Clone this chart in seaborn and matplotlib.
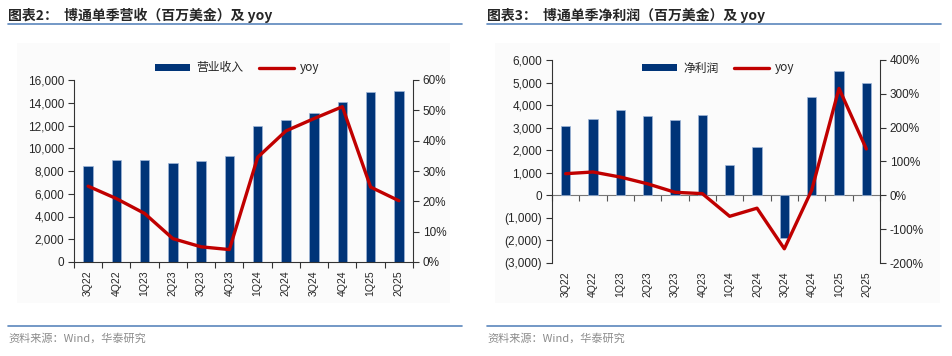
import numpy as np
import pandas as pd
import matplotlib
matplotlib.use("Agg")
import matplotlib.pyplot as plt
import seaborn as sns
from matplotlib.lines import Line2D
from matplotlib.patches import Patch, Rectangle
from matplotlib.ticker import FuncFormatter, MultipleLocator, FixedLocator

sns.set_theme(style="white")
plt.rcParams['font.family'] = ['Liberation Sans', 'Noto Sans CJK SC', 'DejaVu Sans']

quarters = ["3Q22", "4Q22", "1Q23", "2Q23", "3Q23", "4Q23",
            "1Q24", "2Q24", "3Q24", "4Q24", "1Q25", "2Q25"]
revenue = [8480, 8980, 8950, 8710, 8900, 9290,
           11950, 12490, 13070, 14050, 14920, 15000]
revenue_yoy = [25.0, 20.9, 16.0, 7.7, 5.0, 4.1,
               34.5, 43.2, 47.3, 51.2, 24.7, 20.2]
net_profit = [3080, 3380, 3790, 3500, 3320, 3540,
              1340, 2140, -1890, 4350, 5520, 4990]
profit_yoy = [64, 69, 54, 34, 9, 5,
              -62, -38, -158, 15, 316, 137]

title_left = "图表2：  博通单季营收（百万美金）及 yoy"
title_right = "图表3：  博通单季净利润（百万美金）及 yoy"
legend_left = ["营业收入", "yoy"]
legend_right = ["净利润", "yoy"]
source = "资料来源：Wind，华泰研究"

BAR = "#003478"
RED = "#C00000"
RULE = "#5B86BC"
W, H = 953, 356

fig = plt.figure(figsize=(W / 100, H / 100), dpi=100)
fig.patch.set_facecolor("white")


def fx(px):
    return px / W


def fy(py):
    return 1 - py / H


def panel(x0, x1, axl, axr, ytop, ybot, bars, yoy, ylim, ystep, yfmt,
          y2lim, y2step, leg_labels, leg_xy, title, tx, rx0, rx1, zero_line):
    # title and rules
    fig.text(fx(tx), fy(15), title, fontsize=10, fontweight="bold",
             family=["Noto Sans CJK SC", "DejaVu Sans"], va="center", ha="left")
    fig.add_artist(Line2D([fx(rx0), fx(rx1)], [fy(24), fy(24)], color=RULE, lw=1.2))
    fig.add_artist(Line2D([fx(rx0), fx(rx1)], [fy(326), fy(326)], color=RULE, lw=1.2))
    fig.text(fx(tx), fy(338), source, fontsize=8, color="#8C8C8C",
             family=["Noto Sans CJK SC", "DejaVu Sans"], va="center", ha="left")
    fig.add_artist(Rectangle((fx(x0), fy(303)), fx(x1) - fx(x0), fy(43) - fy(303),
                             facecolor="#FBFBFB", edgecolor="none", zorder=-5))

    ax = fig.add_axes([fx(axl), fy(ybot), fx(axr) - fx(axl), fy(ytop) - fy(ybot)])
    ax.patch.set_alpha(0)
    df = pd.DataFrame({"q": quarters, "v": bars})
    sns.barplot(data=df, x="q", y="v", ax=ax, color=BAR, width=0.34,
                saturation=1, edgecolor="#9FB6D8", linewidth=0.5, zorder=2)
    ax.set_xlim(-0.5, len(quarters) - 0.5)
    ax.set_ylim(*ylim)
    ax.yaxis.set_major_locator(MultipleLocator(ystep))
    ax.yaxis.set_major_formatter(FuncFormatter(yfmt))
    ax.set_xlabel("")
    ax.set_ylabel("")
    ax.set_xticks(range(len(quarters)))
    ax.set_xticklabels(quarters, rotation=90, fontsize=7.5)
    ax.tick_params(axis="x", length=0, pad=6)
    ax.tick_params(axis="y", labelsize=8.5, length=4, width=0.8, color="#333333",
                   direction="out", left=True, pad=3)
    for s in ["top", "right"]:
        ax.spines[s].set_visible(False)
    ax.spines["left"].set_color("#333333")
    ax.spines["left"].set_linewidth(0.8)
    bounds = np.arange(len(quarters) + 1) - 0.5
    if zero_line:
        ax.spines["bottom"].set_visible(False)
        frac = (0 - ylim[0]) / (ylim[1] - ylim[0])
        sec = ax.secondary_xaxis(frac)
        sec.set_xticks(bounds)
        sec.set_xticklabels([])
        sec.tick_params(length=4, width=0.8, color="#555555", direction="out")
        sec.spines["bottom"].set_color("#777777")
        sec.spines["bottom"].set_linewidth(0.8)
    else:
        ax.spines["bottom"].set_color("#333333")
        ax.spines["bottom"].set_linewidth(0.8)
        ax.xaxis.set_minor_locator(FixedLocator(bounds))
        ax.tick_params(axis="x", which="minor", length=4, width=0.8,
                       color="#333333", bottom=True, direction="out")

    ax2 = ax.twinx()
    ldf = pd.DataFrame({"x": np.arange(len(quarters)), "y": yoy})
    sns.lineplot(data=ldf, x="x", y="y", ax=ax2, color=RED, lw=2.4, zorder=3)
    ax2.set_ylim(*y2lim)
    ax2.yaxis.set_major_locator(MultipleLocator(y2step))
    ax2.yaxis.set_major_formatter(FuncFormatter(lambda v, p: f"{v:.0f}%"))
    ax2.set_ylabel("")
    ax2.set_xlabel("")
    ax2.tick_params(axis="y", labelsize=8.5, length=4, width=0.8, color="#333333",
                    direction="out", right=True, pad=3)
    for s in ["top", "left", "bottom"]:
        ax2.spines[s].set_visible(False)
    ax2.spines["right"].set_color("#333333")
    ax2.spines["right"].set_linewidth(0.8)
    ax2.set_xlim(-0.5, len(quarters) - 0.5)

    handles = [Patch(facecolor=BAR, edgecolor="none"),
               Line2D([0], [0], color=RED, lw=2.4)]
    fig.legend(handles, leg_labels, loc="center left",
               bbox_to_anchor=(fx(leg_xy[0]), fy(leg_xy[1])),
               ncol=2, frameon=False, handlelength=3.0,
               handleheight=0.5, columnspacing=1.3, handletextpad=0.5,
               borderaxespad=0, borderpad=0,
               prop={"family": ["Noto Sans CJK SC", "DejaVu Sans"], "size": 8.5})
    return ax, ax2


def thousands(v, p):
    return f"{v:,.0f}"


def paren_thousands(v, p):
    if v < 0:
        return f"({-v:,.0f})"
    return f"{v:,.0f}"


panel(17, 450, 74, 413, 80, 262, revenue, revenue_yoy, (0, 16000), 2000, thousands,
      (0, 60), 10, legend_left, (155, 68), title_left, 8, 8, 462, False)
panel(495, 940, 552, 880, 60, 263, net_profit, profit_yoy, (-3000, 6000), 1000,
      paren_thousands, (-200, 400), 100, legend_right, (642, 68), title_right,
      487, 487, 941, True)

fig.savefig("out.png", dpi=100, facecolor="white")
